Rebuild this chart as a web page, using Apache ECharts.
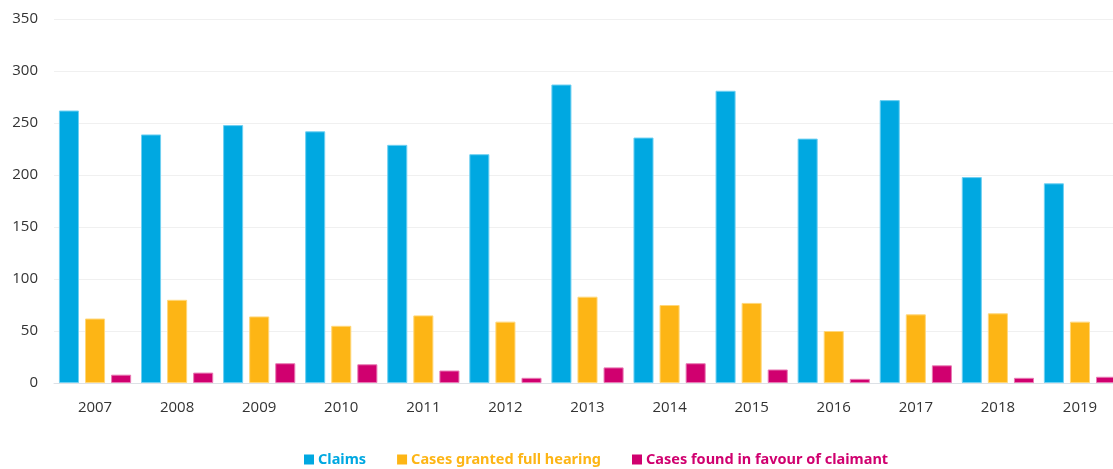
<!DOCTYPE html>
<html>
<head>
<meta charset="utf-8">
<script src="https://cdn.jsdelivr.net/npm/echarts@6/dist/echarts.min.js"></script>
<style>
  html, body { margin: 0; padding: 0; background: #fff; }
  #main { width: 1113px; height: 469px; }
</style>
</head>
<body>
<div id="main"></div>
<script>
// years on the x axis
const years = ['2007', '2008', '2009', '2010', '2011', '2012', '2013', '2014', '2015', '2016', '2017', '2018', '2019']

// values
const claims = [262, 239, 248, 242, 229, 220, 287, 236, 281, 235, 272, 198, 192]
const fullHearing = [62, 80, 64, 55, 65, 59, 83, 75, 77, 50, 66, 67, 59]
const inFavour = [8, 10, 19, 18, 12, 5, 15, 19, 13, 4, 17, 5, 6]

const seriesNames = ['Claims', 'Cases granted full hearing', 'Cases found in favour of claimant']
const colors = ['#00a8e1', '#fdb515', '#d0006f']
const borders = ['#6fd0f2', '#ffd77a', '#e87bb4']

const makeSeries = (name, data, i) => ({
  name: name,
  type: 'bar',
  data: data,
  barGap: '30%',
  barCategoryGap: '12%',
  itemStyle: { color: colors[i], borderColor: borders[i], borderWidth: 1 },
  emphasis: { disabled: true }
})

var myChart = echarts.init(document.getElementById('main'))

const option = {
  animation: false,
  textStyle: { fontFamily: '"Open Sans", sans-serif' },
  // the last group runs past the right edge in the reference
  grid: { left: 54, width: 1067, top: 19, height: 364, outerBoundsMode: 'none' },
  legend: {
    top: 452,
    left: 304,
    padding: 0,
    itemWidth: 10,
    itemHeight: 10,
    itemGap: 31,
    icon: 'rect',
    itemStyle: { borderWidth: 0 },
    textStyle: {
      fontSize: 14.5,
      fontWeight: 'bold',
      fontFamily: '"Noto Sans", sans-serif',
      padding: [0, 0, 0, -1]
    },
    data: seriesNames.map((n, i) => ({ name: n, textStyle: { color: colors[i] } }))
  },
  xAxis: {
    type: 'category',
    data: years,
    axisTick: { show: false },
    axisLine: { lineStyle: { color: '#dde1e6', width: 1 } },
    axisLabel: { color: '#333', fontSize: 15, margin: 17 }
  },
  yAxis: {
    type: 'value',
    min: 0,
    max: 350,
    interval: 50,
    axisLine: { show: false },
    axisTick: { show: false },
    axisLabel: { color: '#333', fontSize: 15, margin: 16 },
    splitLine: { lineStyle: { color: '#f0f0f0', width: 1 } }
  },
  series: [
    makeSeries(seriesNames[0], claims, 0),
    makeSeries(seriesNames[1], fullHearing, 1),
    makeSeries(seriesNames[2], inFavour, 2)
  ]
}

myChart.setOption(option)
</script>
</body>
</html>
